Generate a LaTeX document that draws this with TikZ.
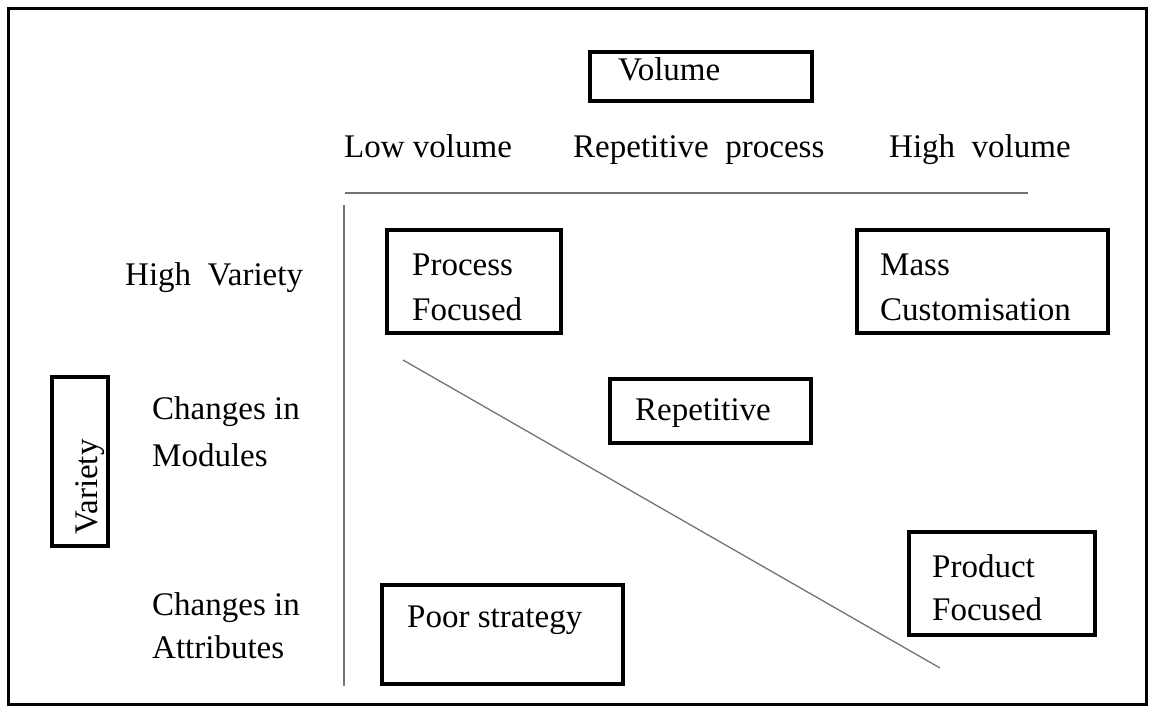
\documentclass[tikz,border=0pt]{standalone}
\usepackage{fontspec}
\setmainfont{Liberation Serif}
\usetikzlibrary{fit}
\begin{document}
\begin{tikzpicture}[x=1pt,y=-1pt,
  box/.style={draw, line width=3.5pt, inner sep=0pt},
  lbl/.style={anchor=base west, inner sep=0pt, font=\fontsize{33}{45}\selectfont},
  rule/.style={draw=black!55, line width=1.3pt}]
\useasboundingbox (0,0) rectangle (1150,707);
\node[draw, line width=3pt, inner sep=0pt, fit={(8,8) (1146,704)}] (frame) {};
% boxes
\node[box, fit={(590,52) (812,101)}] (volbox) {};
\node[box, fit={(387,230) (561,333)}] (procbox) {};
\node[box, fit={(857,230) (1108,333)}] (massbox) {};
\node[box, fit={(610,379) (811,443)}] (repbox) {};
\node[box, fit={(909,532) (1095,635)}] (prodbox) {};
\node[box, fit={(382,585) (623,684)}] (poorbox) {};
\node[box, fit={(52,377) (108,546)}] (varbox) {};
% box texts
\node[lbl] (voltxt) at (618,80) {Volume};
\node[lbl] (proc1) at (412,275) {Process};
\node[lbl] (proc2) at (412,320) {Focused};
\node[lbl] (mass1) at (880,275) {Mass};
\node[lbl] (mass2) at (880,320) {Customisation};
\node[lbl] (reptxt) at (635,420) {Repetitive};
\node[lbl] (prod1) at (932,577) {Product};
\node[lbl] (prod2) at (932,620) {Focused};
\node[lbl] (poortxt) at (407,627) {Poor strategy};
\node[lbl, rotate=90] (vartxt) at (97,535) {Variety};
% column headings
\node[lbl] (lowvol) at (344,157) {Low volume};
\node[lbl] (repproc) at (573,157) {Repetitive\ \ process};
\node[lbl] (highvol) at (889,157) {High\ \ volume};
% row headings
\node[lbl] (highvar) at (125,285) {High\ \ Variety};
\node[lbl] (chm1) at (152,419) {Changes in};
\node[lbl] (chm2) at (152,466) {Modules};
\node[lbl] (cha1) at (152,615) {Changes in};
\node[lbl] (cha2) at (152,658) {Attributes};
% rules
\coordinate (hA) at (345,193);
\coordinate (hB) at (1028,193);
\coordinate (vA) at (344,205);
\coordinate (vB) at (344,686);
\coordinate (dA) at (403,360);
\coordinate (dB) at (940,668);
\draw[rule] (hA) -- (hB);
\draw[rule] (vA) -- (vB);
\draw[rule] (dA) -- (dB);
\end{tikzpicture}
\end{document}
